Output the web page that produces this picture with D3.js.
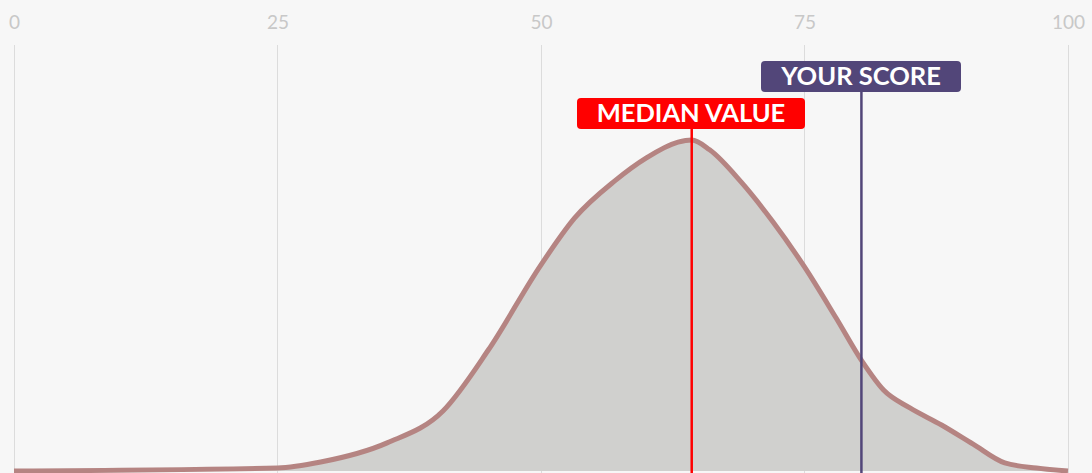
<!DOCTYPE html>
<html><head><meta charset="utf-8">
<script src="https://cdn.jsdelivr.net/npm/d3@7"></script>
<style>
html,body{margin:0;padding:0;background:#f7f7f7;}
svg{display:block;font-family:Lato,"Open Sans",sans-serif;}
</style></head>
<body>
<svg id="chart" width="1092" height="473"></svg>
<script>
const tickValues = [0, 25, 50, 75, 100];
const scoreValues = [0, 25, 29.1, 35.4, 40.7, 45, 50, 53.2, 57, 60, 63, 64.3, 66, 69, 72, 75, 78, 80.5, 82.5, 85, 88, 91, 94, 97, 100];
const densityValues = [0, 0.7, 2.1, 6.6, 14.1, 28.4, 48.4, 59.4, 68.1, 73.5, 77.2, 77.7, 75.4, 67.8, 58.5, 47.9, 35.9, 25.6, 19.0, 14.8, 10.8, 6.3, 1.9, 0.7, 0];
const markerLabels = ["MEDIAN VALUE", "YOUR SCORE"];
const markerValues = [64.3, 80.4];

const svg = d3.select("#chart");
const W = 1092, H = 473;
const x = d3.scaleLinear().domain([0, 100]).range([14, 1068]);
const y = d3.scaleLinear().domain([0, 100]).range([471, 45]);

svg.append("rect").attr("width", W).attr("height", H).attr("fill", "#f7f7f7");

// gridlines
svg.append("g").selectAll("line").data(tickValues).join("line")
  .attr("x1", d => x(d)).attr("x2", d => x(d))
  .attr("y1", 45).attr("y2", H)
  .attr("stroke", "#dcdcdc").attr("stroke-width", 1).attr("shape-rendering", "crispEdges");

// tick labels
const axis = d3.axisTop(x).tickValues(tickValues).tickSize(0).tickPadding(0);
const ag = svg.append("g").attr("transform", "translate(0,29)").call(axis);
ag.select(".domain").remove();
ag.selectAll("text").attr("fill", "#c8c8c8").attr("font-size", 19)
  .attr("font-family", "Lato, sans-serif").attr("dy", 0)
  .attr("text-anchor", "middle");

const pts = scoreValues.map((v, i) => [v, densityValues[i]]);
const area = d3.area().x(d => x(d[0])).y0(y(0)).y1(d => y(d[1])).curve(d3.curveMonotoneX);
const line = d3.line().x(d => x(d[0])).y(d => y(d[1])).curve(d3.curveMonotoneX);

svg.append("path").datum(pts).attr("d", area).attr("fill", "#d0d0ce");
svg.append("path").datum(pts).attr("d", line).attr("fill", "none")
  .attr("stroke", "#b58482").attr("stroke-width", 5).attr("stroke-linejoin", "round");

// markers
const markerColors = ["#ff0000", "#524679"];
const boxTop = [98, 61];
const boxW = [228, 200];
markerValues.forEach((v, i) => {
  const cx = x(v);
  svg.append("line").attr("x1", cx).attr("x2", cx).attr("y1", boxTop[i] + 31).attr("y2", H)
    .attr("stroke", markerColors[i]).attr("stroke-width", 2.5);
  const bx = i === 0 ? 577 : 761;
  svg.append("rect").attr("x", bx).attr("y", boxTop[i]).attr("width", boxW[i]).attr("height", 31)
    .attr("rx", 4).attr("fill", markerColors[i]);
  svg.append("text").attr("x", bx + boxW[i] / 2).attr("y", boxTop[i] + 24)
    .attr("text-anchor", "middle").attr("fill", "#fff").attr("font-weight", 700)
    .attr("font-size", 25.5).attr("font-family", "Lato, sans-serif").text(markerLabels[i]);
});
</script>
</body></html>
